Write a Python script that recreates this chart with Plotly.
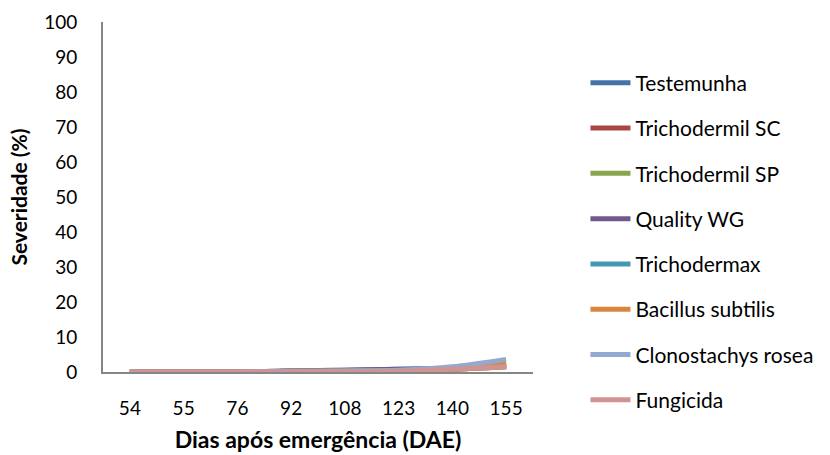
import plotly.graph_objects as go

# Disease severity (%) by days after emergence for each treatment
dae = ["54", "55", "76", "92", "108", "123", "140", "155"]

testemunha = [0, 0, 0, 0.3, 0.5, 0.8, 1.0, 2.2]
trichodermil_sc = [0, 0, 0, 0.2, 0.3, 0.5, 0.8, 1.5]
trichodermil_sp = [0, 0, 0, 0.2, 0.3, 0.5, 0.8, 1.5]
quality_wg = [0, 0, 0, 0.3, 0.5, 0.8, 1.0, 1.8]
trichodermax = [0, 0, 0, 0.2, 0.3, 0.5, 0.8, 2.0]
bacillus_subtilis = [0, 0, 0, 0.2, 0.3, 0.3, 0.8, 2.5]
clonostachys_rosea = [0, 0, 0, 0.2, 0.3, 0.5, 1.5, 3.6]
fungicida = [0, 0, 0, 0.0, 0.0, 0.2, 0.8, 1.5]

names = ["Testemunha", "Trichodermil SC", "Trichodermil SP", "Quality WG",
         "Trichodermax", "Bacillus subtilis", "Clonostachys rosea", "Fungicida"]
series = [testemunha, trichodermil_sc, trichodermil_sp, quality_wg,
          trichodermax, bacillus_subtilis, clonostachys_rosea, fungicida]
colors = ["#4572A7", "#AA4643", "#89A54E", "#71588F",
          "#4198AF", "#DB843D", "#93A9CF", "#D19392"]

FONT = "Lato"

fig = go.Figure()
for name, vals, col in zip(names, series, colors):
    fig.add_trace(go.Scatter(
        x=dae, y=vals, name=name, mode="lines",
        line=dict(color=col, width=5, shape="spline", smoothing=0.8),
        legendgroup=name,
    ))

fig.update_layout(
    width=830, height=455,
    margin=dict(l=103, r=285, t=22, b=83),
    paper_bgcolor="white", plot_bgcolor="white",
    font=dict(family=FONT, size=19, color="#000000"),
    showlegend=True,
    legend=dict(
        x=1.122, y=0.884, xanchor="left", yanchor="top",
        font=dict(family=FONT, size=21, color="#000000"),
        tracegroupgap=15, itemwidth=40, maxheight=440,
        bgcolor="rgba(0,0,0,0)",
    ),
    xaxis=dict(
        type="category", range=[-0.5, 7.5], automargin=False,
        showline=True, linecolor="#868686", linewidth=2,
        showgrid=False, zeroline=False, ticks="",
        ticklabelstandoff=18,
        title=dict(text="<b>Dias após emergência (DAE)</b>",
                   font=dict(family=FONT, size=23), standoff=14),
    ),
    yaxis=dict(
        range=[0, 100], dtick=10, automargin=False,
        showline=True, linecolor="#868686", linewidth=2,
        showgrid=False, zeroline=False, ticks="",
        ticklabelstandoff=20,
        title=dict(text="<b>Severidade (%)</b>",
                   font=dict(family=FONT, size=21), standoff=11),
    ),
)

fig.write_html("out.html")
